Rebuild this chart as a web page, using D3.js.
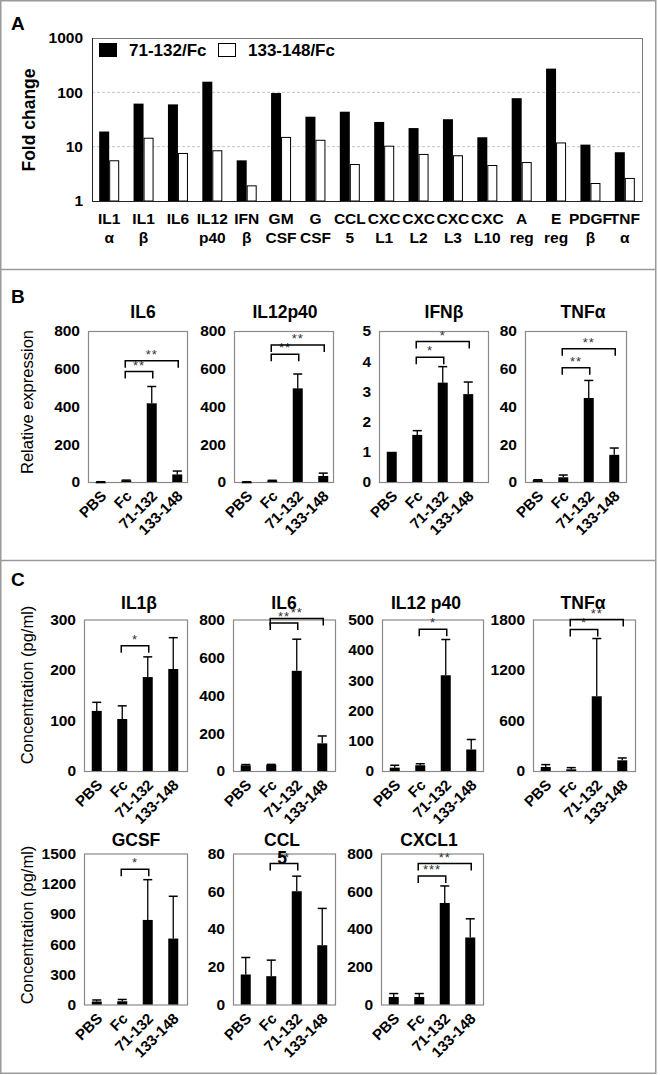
<!DOCTYPE html>
<html><head><meta charset="utf-8">
<script src="https://cdn.jsdelivr.net/npm/d3@7/dist/d3.min.js"></script>
<style>body{margin:0;background:#fff} svg{display:block}</style>
</head><body>
<svg id="fig" width="660" height="1075"></svg>
<script>
// ---------- Panel A data ----------
const aCategories = ["IL1|α","IL1|β","IL6|","IL12|p40","IFN|β","GM|CSF","G|CSF","CCL|5","CXC|L1","CXC|L2","CXC|L3","CXC|L10","A|reg","E|reg","PDGF|β","TNF|α"];
const aSeries = ["71-132/Fc","133-148/Fc"];
const a71_132  = [19, 62, 60, 157, 5.6, 97, 35.6, 44, 28.5, 22, 32, 14.9, 78, 273, 10.9, 7.9];
const a133_148 = [5.5, 14.3, 7.5, 8.4, 1.9, 14.8, 13.1, 4.7, 10.2, 7.2, 6.8, 4.5, 5.1, 11.7, 2.1, 2.6];
const aTicks = [1, 10, 100, 1000];
const aGrid = [10, 100];

// ---------- groups ----------
const groups = ["PBS","Fc","71-132","133-148"];

// ---------- Panel B data (relative expression) ----------
const bIL6 = [1, 8, 417, 40],          bIL6Err = [0.5, 2, 89, 18];
const bIL12 = [1, 7, 496, 32],         bIL12Err = [0.5, 2, 76, 15];
const bIFNb = [1.0, 1.56, 3.29, 2.91], bIFNbErr = [0, 0.14, 0.53, 0.40];
const bTNFa = [1, 2.5, 44.5, 14.4],    bTNFaErr = [0.2, 1.2, 9.3, 3.6];
const bTicks800 = [0, 200, 400, 600, 800];
const bTicks5 = [0, 1, 2, 3, 4, 5];
const bTicks80 = [0, 20, 40, 60, 80];
const bIL6Sig  = [["Fc","71-132",585,"**"],["Fc","133-148",642,"**"]];
const bIL12Sig = [["Fc","71-132",677,"**"],["Fc","133-148",726,"**"]];
const bIFNbSig = [["Fc","71-132",4.13,"*"],["Fc","133-148",4.65,"*"]];
const bTNFaSig = [["Fc","71-132",60.5,"**"],["Fc","133-148",70.6,"**"]];

// ---------- Panel C data (concentration pg/ml) ----------
const cIL1b = [119, 103, 186, 202],   cIL1bErr = [17, 26, 40, 62];
const cIL6 = [30, 32, 529, 146],      cIL6Err = [4, 3, 167, 39];
const cIL12 = [11, 19, 316, 71],      cIL12Err = [8, 5, 118, 33];
const cTNFa = [48, 20, 888, 127],     cTNFaErr = [28, 20, 686, 28];
const cGCSF = [30, 32, 840, 655],     cGCSFErr = [15, 18, 400, 420];
const cCCL5 = [15.9, 15, 60, 31.4],   cCCL5Err = [9, 8.5, 8, 19.5];
const cCXCL1 = [40, 40, 538, 355],    cCXCL1Err = [18, 18, 90, 99];
const cTicks300 = [0, 100, 200, 300];
const cTicks800 = [0, 200, 400, 600, 800];
const cTicks500 = [0, 100, 200, 300, 400, 500];
const cTicks1800 = [0, 600, 1200, 1800];
const cTicks1500 = [0, 300, 600, 900, 1200, 1500];
const cTicks80 = [0, 20, 40, 60, 80];
const cIL1bSig = [["Fc","71-132",248,"*"]];
const cIL6Sig  = [["Fc","71-132",782,"**"],["Fc","133-148",805,"**"]];
const cIL12Sig = [["Fc","71-132",468,"*"]];
const cTNFaSig = [["Fc","71-132",1682,"*"],["Fc","133-148",1800,"**"]];
const cGCSFSig = [["Fc","71-132",1343,"*"]];
const cCCL5Sig = [["Fc","71-132",74.7,"**"]];
const cCXCL1Sig = [["Fc","71-132",681,"***"],["Fc","133-148",747,"**"]];

// ---------- drawing ----------
const FONT = "'Liberation Sans', Arial, Helvetica, sans-serif";
const svg = d3.select("#fig").attr("font-family", FONT);
const fmt = d3.format("d");

// border and separators
svg.append("rect").attr("x",0.75).attr("y",0.75).attr("width",655).attr("height",1072.5)
  .attr("fill","none").attr("stroke","#9a9a9a").attr("stroke-width",1.5);
svg.selectAll("line.sep").data([269.5, 560.5]).join("line").attr("class","sep")
  .attr("x1",0).attr("x2",656).attr("y1",d=>d).attr("y2",d=>d)
  .attr("stroke","#9a9a9a").attr("stroke-width",1.5);

// panel letters
svg.selectAll("text.letter").data([["A",30],["B",303],["C",586]]).join("text")
  .attr("class","letter").attr("x",11).attr("y",d=>d[1]).text(d=>d[0])
  .attr("font-size",19).attr("font-weight","bold");

// ===== Panel A =====
const A = {left:92, right:642, top:38, bottom:201};
const xA = d3.scaleBand().domain(aCategories).range([A.left, A.right]);
const yA = d3.scaleLog().domain([1, 1000]).range([A.bottom, A.top]);
const gA = svg.append("g");
gA.selectAll("line.grid").data(aGrid).join("line").attr("class","grid")
  .attr("x1",A.left).attr("x2",A.right).attr("y1",d=>yA(d)).attr("y2",d=>yA(d))
  .attr("stroke","#c4c4c4").attr("stroke-dasharray","3,2");
const aData = aCategories.map((c,i)=>({c, v1:a71_132[i], v2:a133_148[i]}));
const aBarW = 10;
gA.selectAll("rect.s1").data(aData).join("rect").attr("class","s1")
  .attr("x",d=>xA(d.c)+xA.bandwidth()/2-aBarW).attr("y",d=>yA(d.v1))
  .attr("width",aBarW).attr("height",d=>yA(1)-yA(d.v1)).attr("fill","#000");
gA.selectAll("rect.s2").data(aData).join("rect").attr("class","s2")
  .attr("x",d=>xA(d.c)+xA.bandwidth()/2+0.5).attr("y",d=>yA(d.v2))
  .attr("width",aBarW-1).attr("height",d=>yA(1)-yA(d.v2))
  .attr("fill","#fff").attr("stroke","#000").attr("stroke-width",1);
gA.append("rect").attr("x",A.left+0.5).attr("y",A.top+0.5).attr("width",A.right-A.left).attr("height",A.bottom-A.top)
  .attr("fill","none").attr("stroke","#777");
gA.append("path").attr("d",`M${A.left+0.5},${A.top}V${A.bottom+0.5}H${A.right}`).attr("fill","none").attr("stroke","#222");
// y axis
gA.append("g").attr("transform",`translate(${A.left},0)`)
  .call(d3.axisLeft(yA).tickValues(aTicks).tickFormat(fmt).tickSize(0).tickPadding(9))
  .call(g=>g.select(".domain").remove())
  .selectAll("text").attr("font-size",15.5).attr("font-weight","bold").attr("font-family",FONT).attr("fill","#000");
// x axis (two-line labels)
const gxA = gA.append("g").attr("transform",`translate(0,${A.bottom})`)
  .call(d3.axisBottom(xA).tickSize(0).tickFormat(""));
gxA.select(".domain").remove();
gxA.selectAll(".tick text").each(function(d){
  const t = d3.select(this).text(null).attr("dy",null).attr("y",0)
    .attr("font-size",15.5).attr("font-weight","bold").attr("font-family",FONT).attr("fill","#000");
  d.split("|").forEach((p,i)=>t.append("tspan").attr("x",0).attr("y",i?42:23).text(p));
});
// legend
const legA = gA.append("g");
legA.append("rect").attr("x",99).attr("y",43).attr("width",18).attr("height",14).attr("fill","#000");
legA.append("text").attr("x",129).attr("y",56).text(aSeries[0]).attr("font-size",17).attr("font-weight","bold");
legA.append("rect").attr("x",218.5).attr("y",43.5).attr("width",17).attr("height",13).attr("fill","#fff").attr("stroke","#000");
legA.append("text").attr("x",248).attr("y",56).text(aSeries[1]).attr("font-size",17).attr("font-weight","bold");
// y title
gA.append("text").attr("transform","translate(35,120) rotate(-90)").attr("text-anchor","middle")
  .text("Fold change").attr("font-size",17.5).attr("font-weight","bold");

// ===== Panels B and C subplots =====
function drawSub(cfg){
  const g = svg.append("g");
  const x = d3.scalePoint().domain(groups).range([cfg.left, cfg.left+102]).padding(0.5);
  const y = d3.scaleLinear().domain([0, cfg.ticks[cfg.ticks.length-1]]).range([cfg.bottom, cfg.top]);
  const data = groups.map((k,i)=>({k, v:cfg.vals[i], e:cfg.errs[i]}));
  // frame
  g.append("rect").attr("x",cfg.left+0.5).attr("y",cfg.top+0.5)
    .attr("width",cfg.right-cfg.left).attr("height",cfg.bottom-cfg.top)
    .attr("fill","none").attr("stroke","#8a8a8a").attr("stroke-width",1.2);
  // error bars
  const eData = data.filter(d=>d.e>0);
  g.selectAll("line.err").data(eData).join("line").attr("class","err")
    .attr("x1",d=>x(d.k)).attr("x2",d=>x(d.k)).attr("y1",d=>y(d.v)).attr("y2",d=>y(d.v+d.e))
    .attr("stroke","#000").attr("stroke-width",1.3);
  g.selectAll("line.cap").data(eData).join("line").attr("class","cap")
    .attr("x1",d=>x(d.k)-4.5).attr("x2",d=>x(d.k)+4.5).attr("y1",d=>y(d.v+d.e)).attr("y2",d=>y(d.v+d.e))
    .attr("stroke","#000").attr("stroke-width",1.5);
  // bars
  g.selectAll("rect.bar").data(data).join("rect").attr("class","bar")
    .attr("x",d=>x(d.k)-5).attr("y",d=>y(d.v)).attr("width",10)
    .attr("height",d=>Math.max(1.5, cfg.bottom-y(d.v))).attr("fill","#000");
  // y axis
  g.append("g").attr("transform",`translate(${cfg.left},0)`)
    .call(d3.axisLeft(y).tickValues(cfg.ticks).tickFormat(fmt).tickSize(0).tickPadding(8))
    .call(gg=>gg.select(".domain").remove())
    .selectAll("text").attr("font-size",15.5).attr("font-weight","bold").attr("font-family",FONT).attr("fill","#000");
  // x axis rotated labels
  const gx = g.append("g").attr("transform",`translate(0,${cfg.bottom})`)
    .call(d3.axisBottom(x).tickSize(0));
  gx.select(".domain").remove();
  gx.selectAll(".tick text").attr("y",0).attr("dy",0).attr("text-anchor","end")
    .attr("transform","translate(6,15) rotate(-45)")
    .attr("font-size",15).attr("font-weight","bold").attr("font-family",FONT).attr("fill","#000");
  // significance brackets
  cfg.sig.forEach(([a,b,lvl,lab])=>{
    const yy = y(lvl), x1 = x(a)-1, x2 = x(b)+1;
    g.append("path").attr("d",`M${x1},${yy+7}V${yy}H${x2}V${yy+7}`)
      .attr("fill","none").attr("stroke","#000").attr("stroke-width",1.5);
    g.append("text").attr("x",(x1+x2)/2).attr("y",yy-2).attr("text-anchor","middle")
      .attr("font-size",13).attr("letter-spacing",1).attr("fill","#333").text(lab);
  });
  // title
  const tl = cfg.title.split("|");
  tl.forEach((t,i)=>g.append("text").attr("x",cfg.titleX).attr("y",cfg.titleY+i*18)
    .attr("text-anchor","middle").attr("font-size",17.5).attr("font-weight","bold").text(t));
}

const bTop = 331, bBot = 482;
const c1Top = 619.5, c1Bot = 771;
const c2Top = 853.5, c2Bot = 1004.5;
const subplots = [
  {title:"IL6", titleX:143, titleY:318, vals:bIL6, errs:bIL6Err, ticks:bTicks800, sig:bIL6Sig, left:88, right:187, top:bTop, bottom:bBot},
  {title:"IL12p40", titleX:285, titleY:318, vals:bIL12, errs:bIL12Err, ticks:bTicks800, sig:bIL12Sig, left:234, right:333, top:bTop, bottom:bBot},
  {title:"IFNβ", titleX:444, titleY:318, vals:bIFNb, errs:bIFNbErr, ticks:bTicks5, sig:bIFNbSig, left:379, right:488, top:bTop, bottom:bBot},
  {title:"TNFα", titleX:583, titleY:318, vals:bTNFa, errs:bTNFaErr, ticks:bTicks80, sig:bTNFaSig, left:525, right:626, top:bTop, bottom:bBot},
  {title:"IL1β", titleX:139, titleY:609, vals:cIL1b, errs:cIL1bErr, ticks:cTicks300, sig:cIL1bSig, left:84, right:187, top:c1Top, bottom:c1Bot},
  {title:"IL6", titleX:284, titleY:609, vals:cIL6, errs:cIL6Err, ticks:cTicks800, sig:cIL6Sig, left:233, right:335, top:c1Top, bottom:c1Bot},
  {title:"IL12 p40", titleX:426, titleY:609, vals:cIL12, errs:cIL12Err, ticks:cTicks500, sig:cIL12Sig, left:382, right:483, top:c1Top, bottom:c1Bot},
  {title:"TNFα", titleX:583, titleY:609, vals:cTNFa, errs:cTNFaErr, ticks:cTicks1800, sig:cTNFaSig, left:533, right:635, top:c1Top, bottom:c1Bot},
  {title:"GCSF", titleX:136, titleY:846, vals:cGCSF, errs:cGCSFErr, ticks:cTicks1500, sig:cGCSFSig, left:84, right:187, top:c2Top, bottom:c2Bot},
  {title:"CCL|5", titleX:282, titleY:846, vals:cCCL5, errs:cCCL5Err, ticks:cTicks80, sig:cCCL5Sig, left:233, right:335, top:c2Top, bottom:c2Bot},
  {title:"CXCL1", titleX:429, titleY:846, vals:cCXCL1, errs:cCXCL1Err, ticks:cTicks800, sig:cCXCL1Sig, left:381, right:483, top:c2Top, bottom:c2Bot}
];
subplots.forEach(drawSub);

// y titles B, C
svg.selectAll("text.ytitle").data([["Relative expression",402],["Concentration (pg/ml)",685],["Concentration (pg/ml)",925]])
  .join("text").attr("class","ytitle")
  .attr("transform",d=>`translate(33,${d[1]}) rotate(-90)`).attr("text-anchor","middle")
  .attr("font-size",16.5).text(d=>d[0]);
</script>
</body></html>
